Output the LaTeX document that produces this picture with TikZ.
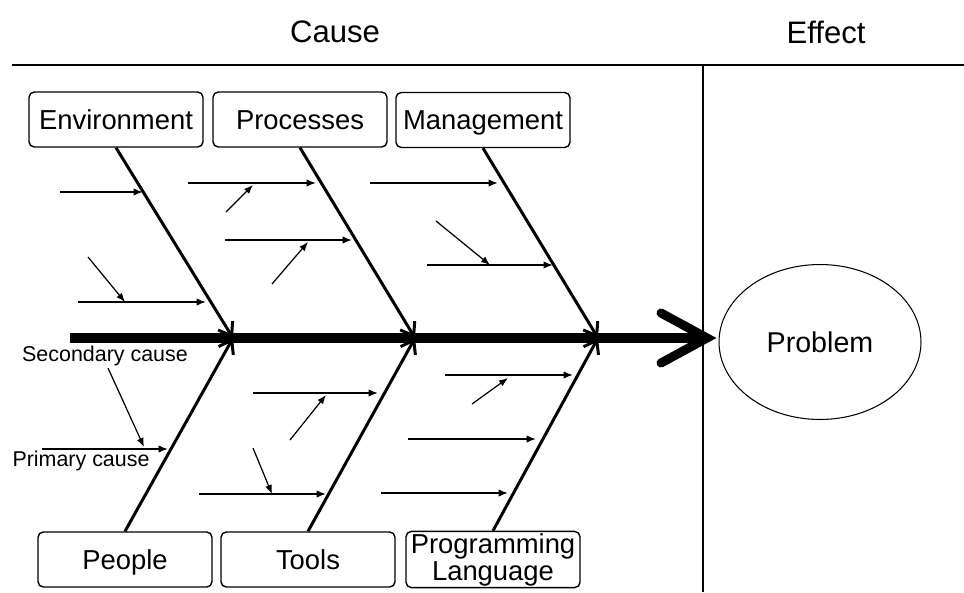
\documentclass[tikz,border=0pt]{standalone}
\usepackage{fontspec}
\setmainfont{Liberation Sans}
\usetikzlibrary{arrows.meta, calc, shapes.geometric}

\begin{document}
\begin{tikzpicture}[
  x=0.02cm, y=-0.02cm,
  catbox/.style={rectangle, draw, rounded corners=3pt, line width=0.8pt, minimum width=3.48cm, minimum height=1.1cm, inner sep=1pt, align=center, text height=11.2pt, text depth=0pt, font=\fontsize{15.6}{15.4}\selectfont},
  heading/.style={font=\fontsize{17.7}{20}\selectfont},
  bone/.style={line width=1.7pt, -{Straight Barb[length=2.4mm, width=3.4mm]}},
  primary/.style={line width=0.9pt, -{Latex[length=1.9mm, width=1.5mm]}},
  secondary/.style={line width=0.7pt, -{Latex[length=1.8mm, width=1.4mm]}},
  hint/.style={font=\fontsize{12.2}{14}\selectfont, inner sep=1pt},
  frame/.style={line width=0.85pt}
]
\useasboundingbox (0,0) rectangle (964,592);

% headings and frame
\node[heading] (cause) at (335,32) {Cause};
\node[heading] (effect) at (826,32) {Effect};
\coordinate (hl) at (12,65);
\coordinate (hr) at (964,65);
\coordinate (vt) at (703,65);
\coordinate (vb) at (703,592);
\draw[frame] (hl) -- (hr);
\draw[frame] (vt) -- (vb);

% category boxes
\node[catbox] (env) at (116,119.5) {Environment};
\node[catbox] (proc) at (300,119.5) {Processes};
\node[catbox] (mgmt) at (483,120) {Management};
\node[catbox] (people) at (125,559.5) {People};
\node[catbox] (tools) at (308,559.5) {Tools};
\node[catbox, text height=, text depth=] (prog) at (493,559.5) {Programming\\Language};

% effect
\node[ellipse, draw, line width=0.6pt, minimum width=4.04cm, minimum height=3.1cm, inner sep=0pt, font=\fontsize{16.3}{18}\selectfont] (problem) at (820,342) {Problem};

% spine with its chevron head
\coordinate (tail) at (70,338);
\coordinate (head) at (707,338);
\draw[line width=0.2cm] (tail) -- (head);
\draw[line width=0.18cm, line cap=round, line join=miter] ($(head)+(-46,-25)$) -- (head) -- ($(head)+(-46,25)$);

% joints on the spine
\coordinate (j1) at (233,338);
\coordinate (j2) at (415,338);
\coordinate (j3) at (598,338);

\draw[bone] (env.south) -- (j1);
\draw[bone] (proc.south) -- (j2);
\draw[bone] (mgmt.south) -- (j3);
\draw[bone] (people.north) -- (j1);
\draw[bone] (tools.north) -- (j2);
\draw[bone] (prog.north) -- (j3);

% primary causes
\foreach \n/\xa/\xb/\y in {e1/60/143/192, e2/78/206/302, p1/188/316/183, p2/225/352/240,
    m1/370/498/183, m2/427/553/265, pe1/42/168/449, t1/253/378/393, t2/199/326/494,
    g1/445/573/375, g2/408/536/439, g3/381/508/493} {
  \coordinate (\n s) at (\xa,\y);
  \coordinate (\n t) at (\xb,\y);
  \draw[primary] (\n s) -- (\n t);
}

% secondary causes
\foreach \n/\xa/\ya/\xb/\yb in {se1/88/257/125/302, sp1/226/212/253/185, sp2/272/284/308/242,
    sm1/436/221/490/265, spe1/108/368/144/447, st1/290/440/326/395, st2/253/448/272/494,
    sg1/472/404/508/378} {
  \coordinate (\n s) at (\xa,\ya);
  \coordinate (\n t) at (\xb,\yb);
  \draw[secondary] (\n s) -- (\n t);
}

% legend labels
\node[hint] (seclabel) at (105,356) {Secondary cause};
\node[hint] (primlabel) at (81,461) {Primary cause};
\end{tikzpicture}
\end{document}
